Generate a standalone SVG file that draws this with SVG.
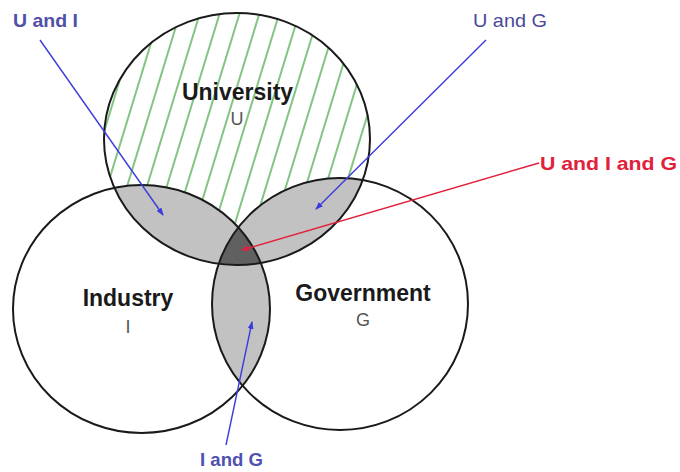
<svg xmlns="http://www.w3.org/2000/svg" width="680" height="472" viewBox="0 0 680 472">
<style>
.ring{fill:none;stroke:#1a1a1a;stroke-width:2}
.title{font-family:"Liberation Sans",Arial,sans-serif;font-weight:bold;font-size:23px;fill:#1a1a1a;text-anchor:middle}
.sym{font-family:"Liberation Sans",Arial,sans-serif;font-size:18px;fill:#555;text-anchor:middle}
.lab{font-family:"Liberation Sans",Arial,sans-serif;font-size:19px}
.blue{stroke:#3c3cdc;stroke-width:1.4;fill:none}
.red{stroke:#e2203a;stroke-width:1.4;fill:none}
</style>
<defs>
<pattern id="hatch" patternUnits="userSpaceOnUse" width="19" height="19" patternTransform="rotate(17)">
<line x1="5" y1="-2" x2="5" y2="21" stroke="#2f9a2f" stroke-width="1.2"/>
</pattern>
<clipPath id="cU"><ellipse cx="237" cy="139" rx="133" ry="126"/></clipPath>
<clipPath id="cI"><ellipse cx="141.5" cy="309" rx="128.5" ry="124"/></clipPath>
<marker id="ab" viewBox="0 0 8 6" refX="7" refY="3" markerWidth="8" markerHeight="6" markerUnits="userSpaceOnUse" orient="auto"><path d="M0,0 L8,3 L0,6 z" fill="#3c3cdc"/></marker>
<marker id="ar" viewBox="0 0 8 6" refX="7" refY="3" markerWidth="8" markerHeight="6" markerUnits="userSpaceOnUse" orient="auto"><path d="M0,0 L8,3 L0,6 z" fill="#e2203a"/></marker>
</defs>
<rect width="680" height="472" fill="#fff"/>
<g id="regions">
<ellipse cx="237" cy="139" rx="133" ry="126" fill="url(#hatch)"/>
<g clip-path="url(#cU)">
<ellipse cx="141.5" cy="309" rx="128.5" ry="124" fill="#c2c2c2"/>
<ellipse cx="340" cy="304" rx="128" ry="126" fill="#c2c2c2"/>
</g>
<g clip-path="url(#cI)">
<ellipse cx="340" cy="304" rx="128" ry="126" fill="#c2c2c2"/>
<g clip-path="url(#cU)">
<ellipse cx="340" cy="304" rx="128" ry="126" fill="#606060"/>
</g>
</g>
</g>
<g id="university">
<ellipse class="ring" cx="237" cy="139" rx="133" ry="126"/>
<text class="title" x="237.5" y="100">University</text>
<text class="sym" x="237" y="125">U</text>
</g>
<g id="industry">
<ellipse class="ring" cx="141.5" cy="309" rx="128.5" ry="124"/>
<text class="title" x="128" y="306">Industry</text>
<text class="sym" x="128" y="333">I</text>
</g>
<g id="government">
<ellipse class="ring" cx="340" cy="304" rx="128" ry="126"/>
<text class="title" x="363" y="301">Government</text>
<text class="sym" x="363" y="326">G</text>
</g>
<g id="connectors">
<line class="blue" x1="40" y1="40" x2="163" y2="215" marker-end="url(#ab)"/>
<line class="blue" x1="486" y1="40" x2="316" y2="209" marker-end="url(#ab)"/>
<line class="red" x1="539" y1="163" x2="242" y2="250" marker-end="url(#ar)"/>
<line class="blue" x1="226" y1="445" x2="252" y2="322" marker-end="url(#ab)"/>
</g>
<g id="labels">
<text class="lab" x="13" y="27" font-weight="bold" fill="#5050a8" textLength="65" lengthAdjust="spacingAndGlyphs">U and I</text>
<text class="lab" x="473" y="27" fill="#4a4a98" textLength="74" lengthAdjust="spacingAndGlyphs">U and G</text>
<text class="lab" x="540" y="170" font-weight="bold" fill="#e2203a" textLength="137" lengthAdjust="spacingAndGlyphs">U and I and G</text>
<text class="lab" x="200" y="466" font-weight="bold" fill="#5050b0" textLength="63" lengthAdjust="spacingAndGlyphs">I and G</text>
</g>
</svg>
